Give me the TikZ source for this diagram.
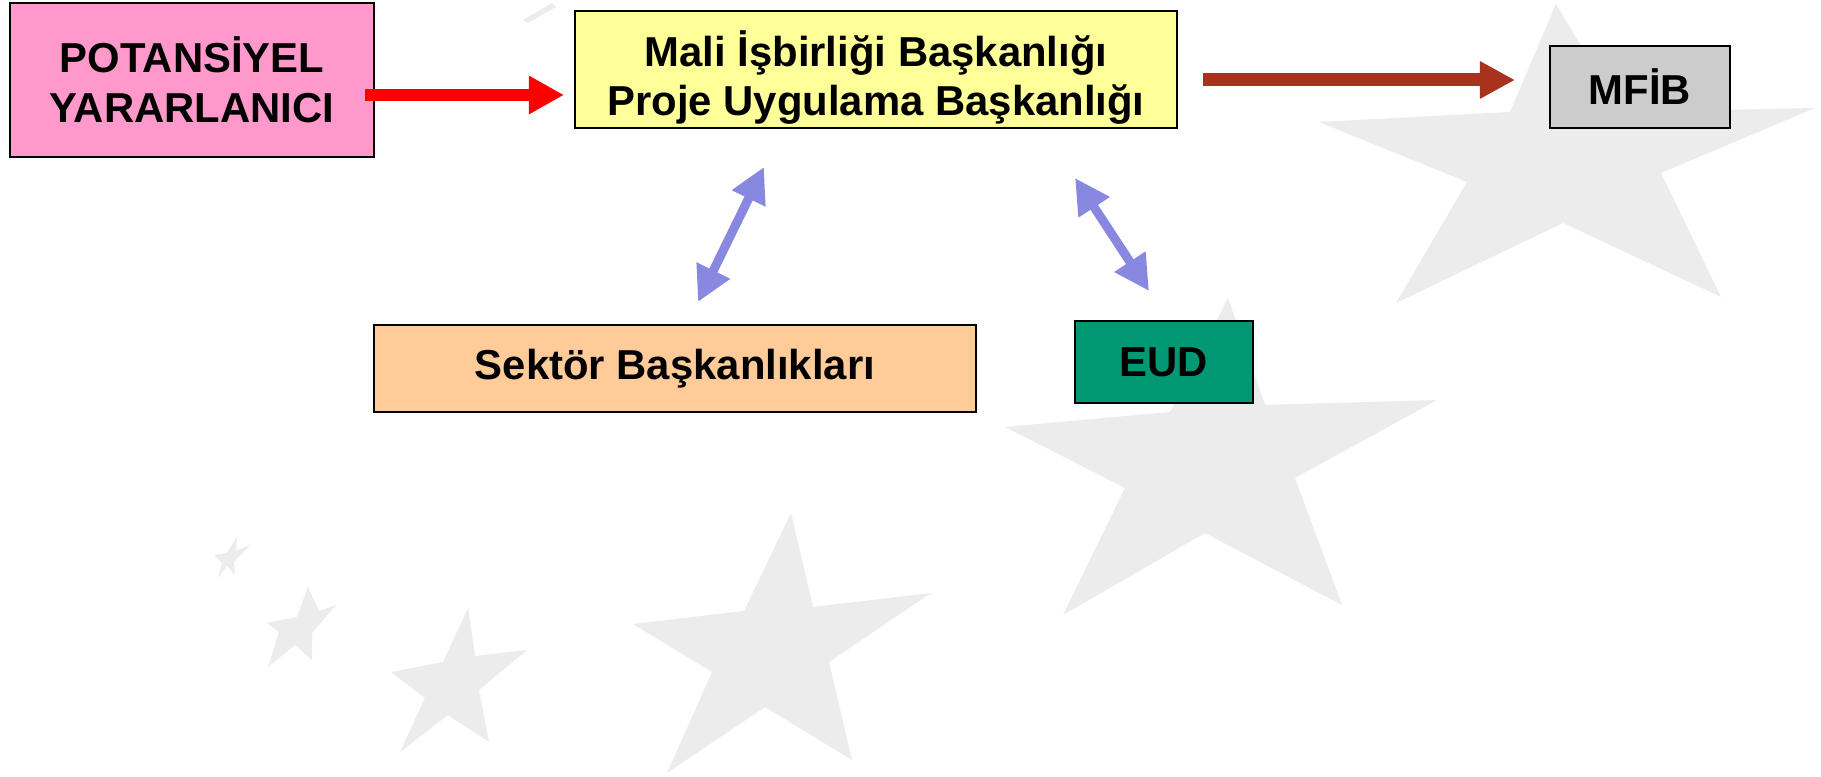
\documentclass[tikz,border=0pt]{standalone}
\usepackage{fontspec}
\setmainfont{Liberation Sans}
\usetikzlibrary{arrows.meta}
\definecolor{starc}{RGB}{236,236,236}
\definecolor{pinkc}{RGB}{255,153,204}
\definecolor{yelc}{RGB}{255,255,153}
\definecolor{grayc}{RGB}{204,204,204}
\definecolor{orc}{RGB}{255,204,153}
\definecolor{grc}{RGB}{0,153,115}
\definecolor{brc}{RGB}{168,50,30}
\definecolor{bluc}{RGB}{136,136,224}
\tikzset{
  box/.style={draw=black, line width=0.7pt, inner sep=0pt, align=center,
    font=\fontsize{11.9}{14.2}\selectfont\bfseries},
  redarr/.style={draw=red, line width=1.2mm, -{Triangle[length=3.5mm,width=3.6mm]}},
  brarr/.style={draw=brc, line width=1.3mm, -{Triangle[length=3.5mm,width=3.5mm]}},
  bluarr/.style={draw=bluc, line width=0.9mm,
    {Triangle[length=3.5mm,width=3.5mm]}-{Triangle[length=3.5mm,width=3.5mm]}},
  starfill/.style={fill=starc}
}
\begin{document}
\begin{tikzpicture}[x=0.01cm,y=-0.01cm]
\useasboundingbox (0,0) rectangle (1821,777);
\fill[white] (0,0) rectangle (1821,777);
% background stars
\fill[starfill] (1556,4) -- (1620,112) -- (1815,108) -- (1661,173) -- (1721,297) -- (1563,223) -- (1396,303) -- (1467,182) -- (1319,122) -- (1510,112) -- cycle;
\fill[starfill] (1228,298) -- (1265,405) -- (1437,400) -- (1295,478) -- (1342,605) -- (1205,533) -- (1063,615) -- (1125,488) -- (1005,427) -- (1170,412) -- cycle;
\fill[starfill] (791,513) -- (813,607) -- (931,593) -- (829,662) -- (852,760) -- (765,707) -- (667,773) -- (712,672) -- (633,624) -- (744,611) -- cycle;
\fill[starfill] (468,608) -- (475,656) -- (527,650) -- (479,690) -- (489,742) -- (448,715) -- (400,752) -- (425,698) -- (391,672) -- (443,662) -- cycle;
\fill[starfill] (308,587) -- (319,611) -- (336,605) -- (312,633) -- (312,660) -- (295,645) -- (268,667) -- (279,632) -- (267,623) -- (297,617) -- cycle;
\fill[starfill] (237,537) -- (236,551) -- (250,545) -- (234,562) -- (235,575) -- (227,566) -- (218,578) -- (222,563) -- (214,555) -- (227,553) -- cycle;
\fill[starfill] (523,20) -- (552,3) -- (556,7) -- (528,23) -- cycle;
% boxes
\node[box, fill=pinkc, minimum width=3.64cm, minimum height=1.54cm] (pot) at (192,80) {POTANS\.IYEL\\YARARLANICI};
\node[box, fill=yelc, minimum width=6.02cm, minimum height=1.17cm,
  font=\fontsize{11.9}{13.8}\selectfont\bfseries] (mali) at (876,69.5) {\rule{0pt}{0.52cm}Mali \.I\c{s}birli\u{g}i Ba\c{s}kanl\i\u{g}\i\\Proje Uygulama Ba\c{s}kanl\i\u{g}\i};
\node[box, fill=grayc, minimum width=1.80cm, minimum height=0.82cm] (mfib) at (1640,87) {MF\.IB};
\node[box, fill=orc, minimum width=6.02cm, minimum height=0.87cm] (sektor) at (675,368.5) {Sekt\"or Ba\c{s}kanl\i kları};
\node[box, fill=grc, minimum width=1.78cm, minimum height=0.82cm] (eud) at (1164,362) {EUD};
% connector endpoints
\coordinate (r0) at (365,95);
\coordinate (r1) at (564,95);
\coordinate (b0) at (1203,80);
\coordinate (b1) at (1515,80);
\coordinate (s0) at (764,167);
\coordinate (s1) at (698,302);
\coordinate (e0) at (1075,178);
\coordinate (e1) at (1149,291);
\draw[redarr] (r0) -- (r1);
\draw[brarr] (b0) -- (b1);
\draw[bluarr] (s0) -- (s1);
\draw[bluarr] (e0) -- (e1);
\end{tikzpicture}
\end{document}
